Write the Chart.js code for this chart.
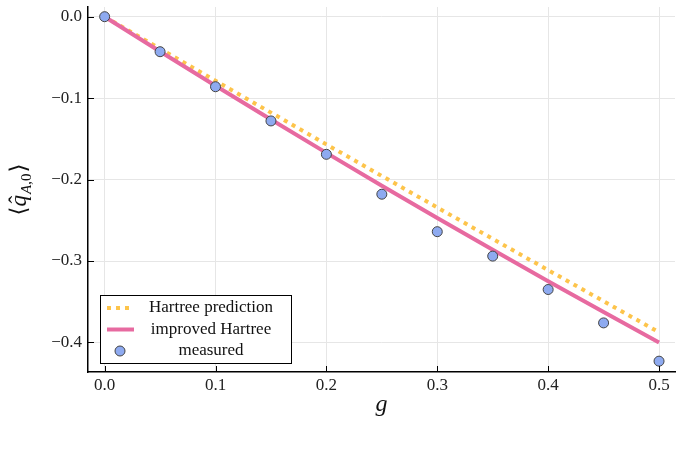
<!DOCTYPE html>
<html>
<head>
<meta charset="utf-8">
<script src="https://cdn.jsdelivr.net/npm/chart.js@4"></script>
<style>
  html, body { margin: 0; padding: 0; background: #fff; }
</style>
</head>
<body>
<canvas id="chart" width="683" height="454"></canvas>
<script>
// coupling values g
const gValues = [0, 0.05, 0.1, 0.15, 0.2, 0.25, 0.3, 0.35, 0.4, 0.45, 0.5];
// Hartree prediction (dotted)
const hartree = [0, -0.0394, -0.0787, -0.1178, -0.1568, -0.1956, -0.2343, -0.2728, -0.3112, -0.3494, -0.3875];
// improved Hartree (solid)
const improved = [0, -0.0427, -0.0848, -0.1263, -0.1672, -0.2075, -0.2472, -0.2863, -0.3248, -0.3627, -0.4];
// measured points
const measured = [0, -0.043, -0.086, -0.128, -0.169, -0.218, -0.264, -0.294, -0.335, -0.376, -0.423];

const xTicks = [0, 0.1, 0.2, 0.3, 0.4, 0.5];
const yTicks = [0, -0.1, -0.2, -0.3, -0.4];
const legendLabels = ["Hartree prediction", "improved Hartree", "measured"];

const yellow = "#fdc44b";
const pink = "#e76aa0";
const blue = "#8eaaf0";
const serif = "'Liberation Serif', 'DejaVu Serif', serif";

const toPoints = ys => gValues.map((g, i) => ({ x: g, y: ys[i] }));
const fmt = v => (v < -1e-9 ? "\u2212" : "") + Math.abs(v).toFixed(1);

// ticks drawn inward, legend and axis titles
const decorations = {
  id: "decorations",
  afterDraw(chart) {
    const { ctx, chartArea: a, scales: { x, y } } = chart;
    ctx.save();

    ctx.strokeStyle = "#000";
    ctx.lineWidth = 1;
    ctx.beginPath();
    xTicks.forEach(v => {
      const px = Math.round(x.getPixelForValue(v)) + 0.5;
      ctx.moveTo(px, a.bottom);
      ctx.lineTo(px, a.bottom - 6);
    });
    yTicks.forEach(v => {
      const py = Math.round(y.getPixelForValue(v)) + 0.5;
      ctx.moveTo(a.left, py);
      ctx.lineTo(a.left + 6, py);
    });
    ctx.stroke();

    // legend
    const lx = 100.5, ly = 295.5, lw = 191, lh = 68;
    ctx.fillStyle = "#fff";
    ctx.fillRect(lx, ly, lw, lh);
    ctx.strokeStyle = "#000";
    ctx.lineWidth = 1;
    ctx.strokeRect(lx, ly, lw, lh);
    const rows = [308, 329.5, 351];

    ctx.lineWidth = 4;
    ctx.strokeStyle = yellow;
    ctx.setLineDash([4, 5]);
    ctx.beginPath(); ctx.moveTo(107, rows[0]); ctx.lineTo(134, rows[0]); ctx.stroke();
    ctx.setLineDash([]);
    ctx.strokeStyle = pink;
    ctx.beginPath(); ctx.moveTo(107, rows[1]); ctx.lineTo(134, rows[1]); ctx.stroke();
    ctx.lineWidth = 1;
    ctx.fillStyle = blue;
    ctx.strokeStyle = "#444";
    ctx.beginPath(); ctx.arc(120, rows[2], 5, 0, Math.PI * 2); ctx.fill(); ctx.stroke();

    ctx.fillStyle = "#111";
    ctx.font = "17px " + serif;
    ctx.textAlign = "center";
    ctx.textBaseline = "middle";
    legendLabels.forEach((t, i) => ctx.fillText(t, 211, rows[i]));

    // x title
    ctx.font = "italic 24px " + serif;
    ctx.fillText("g", (a.left + a.right) / 2, 405);

    // y title <q̂_{A,0}>
    ctx.translate(20, (a.top + a.bottom) / 2);
    ctx.rotate(-Math.PI / 2);
    ctx.textAlign = "left";
    ctx.textBaseline = "alphabetic";
    const big = "23px " + serif, bigI = "italic 23px " + serif, small = "italic 15px " + serif, smallR = "15px " + serif;
    ctx.font = big; const wL = ctx.measureText("\u27E8").width;
    ctx.font = bigI; const wQ = ctx.measureText("q").width;
    ctx.font = small; const wA = ctx.measureText("A").width;
    ctx.font = smallR; const wS = ctx.measureText(",0").width;
    ctx.font = big; const wR = ctx.measureText("\u27E9").width;
    const total = wL + wQ + wA + wS + wR + 2;
    let cx = -total / 2;
    const base = 6;
    ctx.font = big; ctx.fillText("\u27E8", cx, base); cx += wL;
    ctx.font = bigI; ctx.fillText("q", cx, base);
    ctx.font = big; ctx.fillText("\u02C6", cx + wQ * 0.25, base - 1);
    cx += wQ + 1;
    ctx.font = small; ctx.fillText("A", cx, base + 5); cx += wA;
    ctx.font = smallR; ctx.fillText(",0", cx, base + 5); cx += wS + 1;
    ctx.font = big; ctx.fillText("\u27E9", cx, base);

    ctx.restore();
  }
};

new Chart(document.getElementById("chart"), {
  type: "scatter",
  data: {
    datasets: [
      {
        label: legendLabels[2],
        data: toPoints(measured),
        backgroundColor: blue,
        borderColor: "#444",
        borderWidth: 1,
        pointRadius: 5,
        order: 0
      },
      {
        label: legendLabels[1],
        data: toPoints(improved),
        showLine: true,
        borderColor: pink,
        borderWidth: 4,
        pointRadius: 0,
        order: 1
      },
      {
        label: legendLabels[0],
        data: toPoints(hartree),
        showLine: true,
        borderColor: yellow,
        borderWidth: 4,
        borderDash: [4, 5],
        pointRadius: 0,
        order: 2
      }
    ]
  },
  options: {
    responsive: false,
    animation: false,
    layout: { padding: { top: 7, right: 8, left: 0, bottom: 0 } },
    plugins: { legend: { display: false }, tooltip: { enabled: false } },
    scales: {
      x: {
        type: "linear",
        min: -0.015,
        max: 0.5144,
        afterBuildTicks: s => { s.ticks = xTicks.map(v => ({ value: v })); },
        afterFit: s => { s.height = 82; s.paddingLeft = 0; s.paddingRight = 0; },
        grid: { color: "#e6e6e6", drawTicks: false },
        border: { display: true, color: "#000", width: 1.5 },
        ticks: { padding: 3, color: "#222", font: { family: serif, size: 17 }, callback: v => fmt(v) }
      },
      y: {
        type: "linear",
        min: -0.4363,
        max: 0.0119,
        afterBuildTicks: s => { s.ticks = yTicks.map(v => ({ value: v })); },
        afterFit: s => { s.width = 88; s.paddingTop = 0; s.paddingBottom = 0; },
        grid: { color: "#e6e6e6", drawTicks: false },
        border: { display: true, color: "#000", width: 1.5 },
        ticks: { padding: 6, color: "#222", font: { family: serif, size: 17 }, callback: v => fmt(v) }
      }
    }
  },
  plugins: [decorations]
});
</script>
</body>
</html>
